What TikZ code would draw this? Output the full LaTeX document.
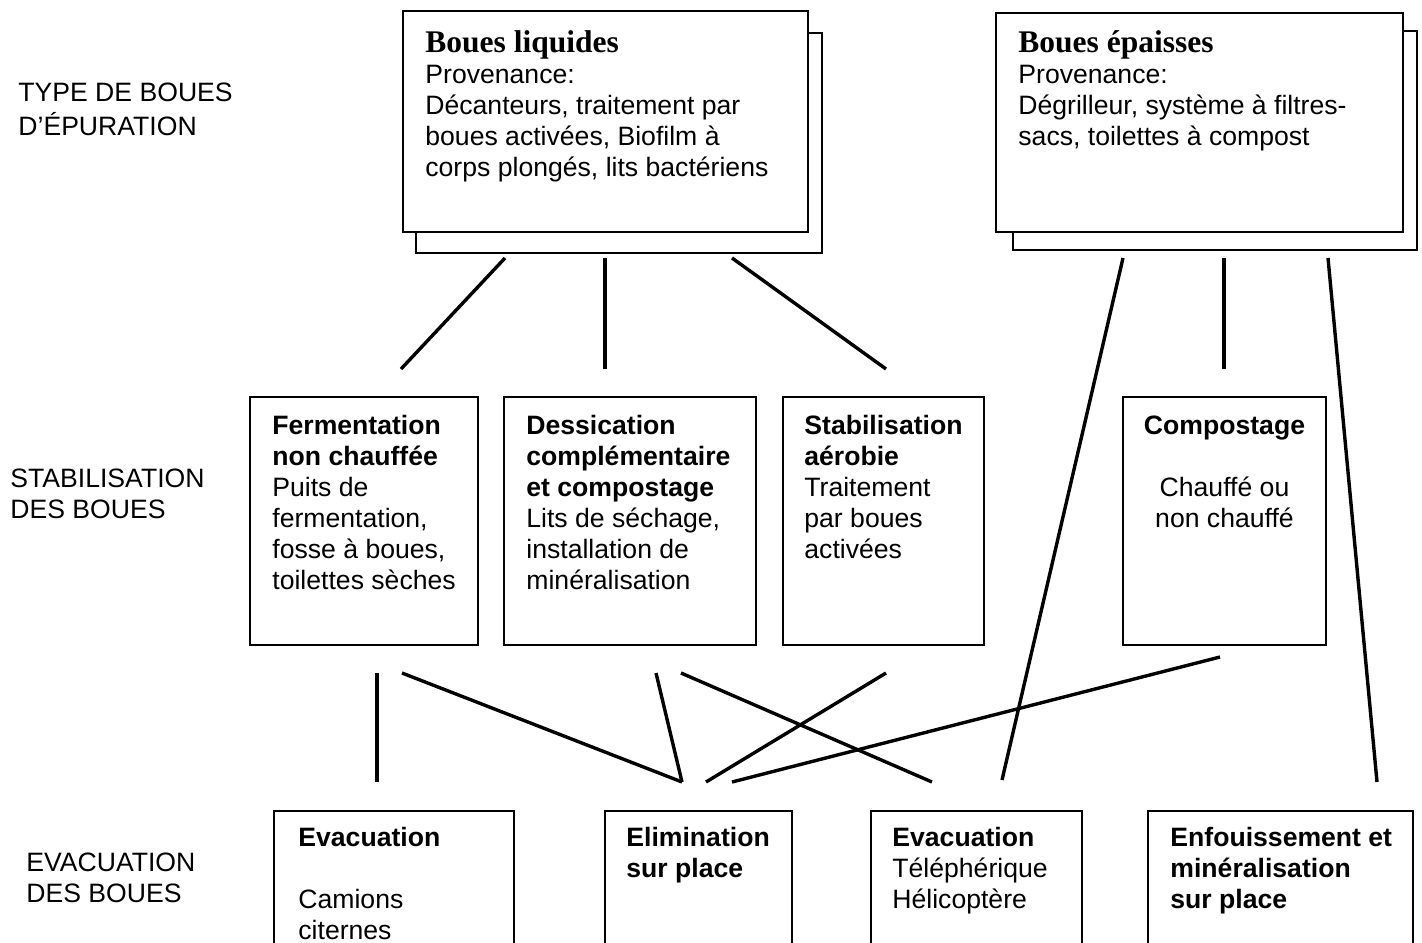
\documentclass[tikz,border=0pt]{standalone}
\usepackage{fontspec}
\setmainfont{Liberation Sans}
\newfontfamily\serifhead{Liberation Serif}
\newcommand{\boxhead}[1]{{\serifhead\bfseries\fontsize{15.75}{15.5}\selectfont #1}}
\tikzset{
  box/.style={draw,line width=1pt,fill=white,inner sep=0pt,outer sep=0pt,anchor=north west},
  txt/.style={anchor=north west,inner sep=0pt,align=left,font=\fontsize{13.3}{15.5}\selectfont},
  link/.style={line width=1.7pt}
}

\begin{document}
\begin{tikzpicture}[x=0.5pt,y=-0.5pt]
    \clip (0,0) rectangle (1422,942);
    % row labels
    \node[txt] (rowtype) at (18,79.3) {\strut TYPE DE BOUES\\D’ÉPURATION};
    \node[txt] (rowstab) at (10,465.3) {\strut STABILISATION\\DES BOUES};
    \node[txt] (rowevac) at (26,849.3) {\strut EVACUATION\\DES BOUES};
    % sludge types
    \node[box,minimum width=203pt,minimum height=110pt] (liqback) at (416,33) {};
    \node[box,minimum width=202.5pt,minimum height=110.5pt] (liq) at (403,11) {};
    \node[txt] (liqtxt) at (425,30.3) {\strut\boxhead{Boues liquides}\\Provenance:\\Décanteurs, traitement par\\boues activées, Biofilm à\\corps plongés, lits bactériens};
    \node[box,minimum width=202pt,minimum height=109.5pt] (epaback) at (1013,31) {};
    \node[box,minimum width=203.5pt,minimum height=109.5pt] (epa) at (996,13) {};
    \node[txt] (epatxt) at (1018,30.3) {\strut\boxhead{Boues épaisses}\\Provenance:\\Dégrilleur, système à filtres-\\sacs, toilettes à compost};
    % stabilisation
    \node[box,minimum width=114pt,minimum height=124pt] (ferm) at (250,397) {};
    \node[txt] (fermtxt) at (272,412.3) {\strut\textbf{Fermentation}\\\textbf{non chauffée}\\Puits de\\fermentation,\\fosse à boues,\\toilettes sèches};
    \node[box,minimum width=126pt,minimum height=124pt] (dess) at (504,397) {};
    \node[txt] (desstxt) at (526,412.3) {\strut\textbf{Dessication}\\\textbf{complémentaire}\\\textbf{et compostage}\\Lits de séchage,\\installation de\\minéralisation};
    \node[box,minimum width=100.5pt,minimum height=124pt] (stab) at (783,397) {};
    \node[txt] (stabtxt) at (804,412.3) {\strut\textbf{Stabilisation}\\\textbf{aérobie}\\Traitement\\par boues\\activées};
    \node[box,minimum width=101.5pt,minimum height=124pt] (comp) at (1123,397) {};
    \node[txt,anchor=north,align=center] (comptxt) at (1224.5,412.3) {\strut\textbf{Compostage}\\[15.5pt]Chauffé ou\\non chauffé};
    % evacuation
    \node[box,minimum width=120pt,minimum height=100pt] (evacam) at (274,811) {};
    \node[txt] (evacamtxt) at (298,824.3) {\strut\textbf{Evacuation}\\[15.5pt]Camions\\citernes};
    \node[box,minimum width=93.5pt,minimum height=100pt] (elim) at (605,811) {};
    \node[txt] (elimtxt) at (626,824.3) {\strut\textbf{Elimination}\\\textbf{sur place}};
    \node[box,minimum width=105.5pt,minimum height=100pt] (evatel) at (871,811) {};
    \node[txt] (evateltxt) at (892,824.3) {\strut\textbf{Evacuation}\\Téléphérique\\Hélicoptère};
    \node[box,minimum width=132.5pt,minimum height=100pt] (enfou) at (1148,811) {};
    \node[txt] (enfoutxt) at (1170,824.3) {\strut\textbf{Enfouissement et}\\\textbf{minéralisation}\\\textbf{sur place}};
    % links from the sludge types
    \draw[link] ([shift={(89,5)}]liqback.south west) -- ([shift={(151,-28)}]ferm.north west);
    \draw[link] ([shift={(189,5)}]liqback.south west) -- ([shift={(101,-28)}]dess.north west);
    \draw[link] ([shift={(316,5)}]liqback.south west) -- ([shift={(103,-28)}]stab.north west);
    \draw[link] ([shift={(110,8)}]epaback.south west) -- ([shift={(131,-31)}]evatel.north west);
    \draw[link] ([shift={(211,8)}]epaback.south west) -- ([shift={(101,-28)}]comp.north west);
    \draw[link] ([shift={(315,8)}]epaback.south west) -- ([shift={(229,-29)}]enfou.north west);
    % links to the evacuation
    \draw[link] ([shift={(127,28)}]ferm.south west) -- ([shift={(103,-29)}]evacam.north west);
    \draw[link] ([shift={(152,28)}]ferm.south west) -- ([shift={(77,-29)}]elim.north west);
    \draw[link] ([shift={(152,28)}]dess.south west) -- ([shift={(77,-29)}]elim.north west);
    \draw[link] ([shift={(177,28)}]dess.south west) -- ([shift={(61,-29)}]evatel.north west);
    \draw[link] ([shift={(103,28)}]stab.south west) -- ([shift={(101,-29)}]elim.north west);
    \draw[link] ([shift={(97,12)}]comp.south west) -- ([shift={(127,-29)}]elim.north west);
\end{tikzpicture}
\end{document}
